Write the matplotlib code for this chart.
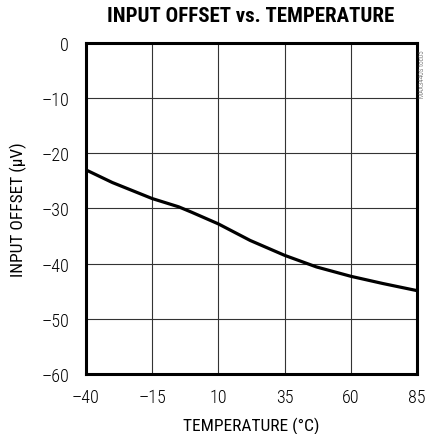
import matplotlib
matplotlib.use("Agg")
import matplotlib.pyplot as plt

# curve
temperature = [-40, -30, -15, -5, 0, 10, 22, 35, 47, 60, 72, 85]
offset_uv = [-23.0, -25.3, -28.2, -29.7, -30.7, -32.8, -35.8, -38.5, -40.6, -42.3, -43.6, -44.9]

x_ticks = [-40, -15, 10, 35, 60, 85]
y_ticks = [0, -10, -20, -30, -40, -50, -60]

plt.rcParams["font.family"] = ["Roboto Condensed", "Archivo Narrow", "DejaVu Sans"]
plt.rcParams["font.weight"] = "light"

fig = plt.figure(figsize=(4.27, 4.35), dpi=100)
ax = fig.add_axes([0.201, 0.138, 0.776, 0.761])

ax.plot(temperature, offset_uv, color="black", linewidth=2.3, solid_capstyle="butt")

ax.set_xlim(-40, 85)
ax.set_ylim(-60, 0)
ax.set_xticks(x_ticks)
ax.set_yticks(y_ticks)
ax.set_xticklabels([str(t).replace("-", "\u2013") for t in x_ticks])
ax.set_yticklabels([str(t).replace("-", "\u2013") for t in y_ticks])
ax.tick_params(axis="y", length=0, labelsize=13, pad=12)
ax.tick_params(axis="x", length=0, labelsize=13, pad=10)
ax.grid(True, color="#333333", linewidth=0.8)
for s in ax.spines.values():
    s.set_linewidth(2.2)

ax.set_xlabel("TEMPERATURE (°C)", fontsize=12.5, labelpad=8)
ax.set_ylabel("INPUT OFFSET (µV)", fontsize=12.5, labelpad=10)
fig.text(0.588, 0.961, "INPUT OFFSET vs. TEMPERATURE", ha="center", va="center",
         fontsize=15, fontweight="black")
fig.text(0.989, 0.83, "MAX3440S toc05", rotation=90, ha="center", va="center",
         fontsize=5, color="#444444")

fig.savefig("out.png", dpi=100)
